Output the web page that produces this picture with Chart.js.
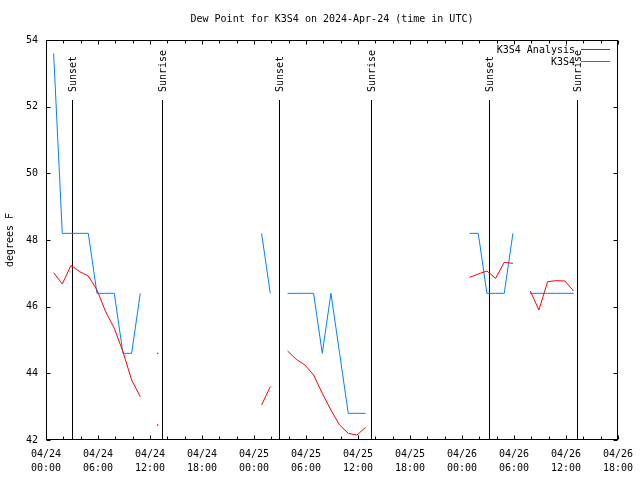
<!DOCTYPE html>
<html><head><meta charset="utf-8">
<script src="https://cdn.jsdelivr.net/npm/chart.js@4/dist/chart.umd.min.js"></script>
<style>html,body{margin:0;padding:0;background:#fff}#wrap{width:640px;height:480px}</style>
</head><body><div id="wrap"><canvas id="c" width="640" height="480"></canvas></div>
<script>
// hours after 2024-04-24 00:00 UTC
const hours = [0.88,1.88,2.88,3.88,4.88,5.88,6.88,7.88,8.88,9.88,10.88,11.88,12.88,13.88,14.88,15.88,16.88,17.88,18.88,19.88,20.88,21.88,22.88,23.88,24.88,25.88,26.88,27.88,28.88,29.88,30.88,31.88,32.88,33.88,34.88,35.88,36.88,37.88,38.88,39.88,40.88,41.88,42.88,43.88,44.88,45.88,46.88,47.88,48.88,49.88,50.88,51.88,52.88,53.88,54.88,55.88,56.88,57.88,58.88,59.88,60.88];
const analysis = [47.02,46.68,47.24,47.05,46.92,46.5,45.85,45.35,44.65,43.8,43.3,null,42.45,null,null,null,null,null,null,null,null,null,null,null,43.05,43.6,null,44.67,44.42,44.25,43.95,43.4,42.9,42.45,42.2,42.15,42.38,null,null,null,null,null,null,null,null,null,null,null,46.88,46.98,47.07,46.85,47.33,47.3,null,46.47,45.9,46.75,46.78,46.77,46.47];
const observed = [53.6,48.2,48.2,48.2,48.2,46.4,46.4,46.4,44.6,44.6,46.4,null,44.6,null,null,null,null,null,null,null,null,null,null,null,48.2,46.4,null,46.4,46.4,46.4,46.4,44.6,46.4,44.6,42.8,42.8,42.8,null,null,null,null,null,null,null,null,null,null,null,48.2,48.2,46.4,46.4,46.4,48.2,null,46.4,46.4,46.4,46.4,46.4,46.4];
const xTickDates = ["04/24","04/24","04/24","04/24","04/25","04/25","04/25","04/25","04/26","04/26","04/26","04/26"];
const xTickTimes = ["00:00","06:00","12:00","18:00","00:00","06:00","12:00","18:00","00:00","06:00","12:00","18:00"];
const sunHours = [2.96,13.42,26.94,37.51,51.12,61.32];
const sunLabels = ["Sunset","Sunrise","Sunset","Sunrise","Sunset","Sunrise"];
const seriesNames = ["K3S4 Analysis","K3S4"];
const seriesColors = ["rgb(255,0,0)","rgb(0,128,255)"];
const titleText = "Dew Point for K3S4 on 2024-Apr-24 (time in UTC)";
const yTitle = "degrees F";

const FONT = "DejaVu Sans Mono";

function isolatedRadius(arr){
  return (ctx) => {
    const i = ctx.dataIndex;
    if (arr[i] === null) return 0;
    const p = i > 0 ? arr[i-1] : null, n = i < arr.length-1 ? arr[i+1] : null;
    return (p === null && n === null) ? 1 : 0;
  };
}

const decor = {
  id: 'decor',
  beforeDatasetsDraw(chart){
    const ctx = chart.ctx, a = chart.chartArea, xs = chart.scales.x;
    ctx.save();
    ctx.strokeStyle = '#000'; ctx.lineWidth = 1;
    ctx.fillStyle = '#000';
    ctx.font = '10px "' + FONT + '"';
    for (let i = 0; i < sunHours.length; i++){
      const x = Math.round(xs.getPixelForValue(sunHours[i])) + 0.5;
      ctx.beginPath(); ctx.moveTo(x, 100); ctx.lineTo(x, a.bottom); ctx.stroke();
      ctx.save();
      ctx.translate(x + 0.5, 92);
      ctx.rotate(-Math.PI/2);
      ctx.textAlign = 'left'; ctx.textBaseline = 'middle';
      ctx.fillText(sunLabels[i], 0, 0);
      ctx.restore();
    }
    ctx.restore();
  },
  afterDraw(chart){
    const ctx = chart.ctx, a = chart.chartArea, xs = chart.scales.x, ys = chart.scales.y;
    ctx.save();
    ctx.strokeStyle = '#000'; ctx.lineWidth = 1;
    const L = Math.round(a.left) + 0.5, R = Math.round(a.right) - 0.5;
    const T = Math.round(a.top) + 0.5, B = Math.round(a.bottom) - 0.5;
    ctx.strokeRect(L, T, R - L, B - T);
    ctx.beginPath();
    for (let h = 0; h <= 66; h += 2){
      const x = Math.round(xs.getPixelForValue(h)) + 0.5;
      const len = (h % 6 === 0) ? 4 : 3;
      ctx.moveTo(x, B); ctx.lineTo(x, B - len);
      ctx.moveTo(x, T); ctx.lineTo(x, T + len);
    }
    for (let v = 42; v <= 54; v += 2){
      const y = Math.round(ys.getPixelForValue(v)) + 0.5;
      ctx.moveTo(L, y); ctx.lineTo(L + 4, y);
      ctx.moveTo(R, y); ctx.lineTo(R - 4, y);
    }
    ctx.stroke();
    ctx.fillStyle = '#000';
    ctx.font = '10px "' + FONT + '"';
    ctx.textAlign = 'center'; ctx.textBaseline = 'middle';
    ctx.fillText(titleText, (a.left + a.right) / 2, 19);
    ctx.save();
    ctx.translate(10, 240); ctx.rotate(-Math.PI/2);
    ctx.fillText(yTitle, 0, 0);
    ctx.restore();
    // legend
    ctx.textAlign = 'right';
    const rows = [50, 62];
    for (let i = 0; i < seriesNames.length; i++){
      ctx.fillStyle = '#000';
      ctx.fillText(seriesNames[i], 575, rows[i]);
    }
    for (let i = 0; i < seriesNames.length; i++){
      ctx.beginPath();
      ctx.strokeStyle = seriesColors[i];
      ctx.lineWidth = 1;
      ctx.moveTo(581, rows[i] - 0.5);
      ctx.lineTo(610, rows[i] - 0.5);
      ctx.stroke();
    }
    ctx.restore();
  }
};

new Chart(document.getElementById('c'), {
  type: 'line',
  data: {
    datasets: [
      { label: seriesNames[0], data: hours.map((h,i)=>({x:h,y:analysis[i]})),
        borderColor: seriesColors[0], backgroundColor: seriesColors[0], borderWidth: 1,
        pointRadius: isolatedRadius(analysis), pointBorderWidth: 0, pointStyle: 'rect',
        spanGaps: false, tension: 0 },
      { label: seriesNames[1], data: hours.map((h,i)=>({x:h,y:observed[i]})),
        borderColor: seriesColors[1], backgroundColor: seriesColors[1], borderWidth: 1,
        pointRadius: isolatedRadius(observed), pointBorderWidth: 0, pointStyle: 'rect',
        spanGaps: false, tension: 0 }
    ]
  },
  options: {
    responsive: false, animation: false, devicePixelRatio: 1,
    layout: { padding: { top: 40, right: 19, left: 0, bottom: 0 } },
    plugins: { legend: { display: false }, tooltip: { enabled: false }, title: { display: false } },
    scales: {
      x: {
        type: 'linear', min: 0, max: 66,
        grid: { display: false, drawTicks: false }, border: { display: false },
        ticks: {
          stepSize: 2, autoSkip: false, maxRotation: 0, minRotation: 0, padding: 7,
          color: '#000', font: { family: FONT, size: 10, lineHeight: 1.4 },
          callback: (v) => (v % 6 === 0) ? [xTickDates[v/6], xTickTimes[v/6]] : ''
        },
        afterFit: (s) => { s.height = 40; }
      },
      y: {
        min: 42, max: 54,
        grid: { display: false, drawTicks: false }, border: { display: false },
        ticks: { stepSize: 2, padding: 8, color: '#000', font: { family: FONT, size: 10 } },
        afterFit: (s) => { s.width = 46; }
      }
    }
  },
  plugins: [decor]
});
</script>
</body></html>
